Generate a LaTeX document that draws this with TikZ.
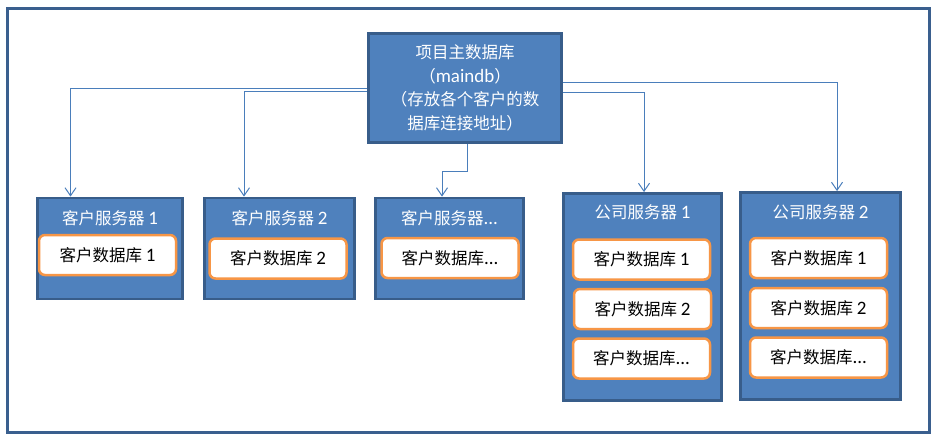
\documentclass[tikz,border=0pt]{standalone}
\usepackage{fontspec}
\setmainfont{Noto Sans CJK SC}
\newfontfamily\latfont[Scale=1.15]{Carlito}
\usetikzlibrary{arrows.meta}
\definecolor{boxfill}{RGB}{79,129,189}
\definecolor{boxline}{RGB}{56,93,138}
\definecolor{orng}{RGB}{247,150,70}
\definecolor{connc}{RGB}{74,126,187}
\definecolor{framec}{RGB}{58,95,142}
\newcommand\lf[1]{{\latfont #1}}
\begin{document}
\begin{tikzpicture}[x=1pt,y=-1pt,
  srv/.style={draw=boxline,fill=boxfill,line width=2.8pt,inner sep=0pt,rectangle},
  dbbox/.style={draw=orng,fill=white,line width=2.5pt,rounded corners=6pt,
    minimum width=137pt,minimum height=40pt,inner sep=0pt,
    font=\fontsize{16.5}{19}\selectfont,text=black},
  ttl/.style={text=white,font=\fontsize{16.5}{19}\selectfont,inner sep=0pt},
  cn/.style={draw=connc,line width=1pt,-{Straight Barb[length=8pt,width=11pt]}}
]
\useasboundingbox (0,0) rectangle (941,442);
\draw[framec,line width=3pt] (7.5,8.5) rectangle (929,432);

% main database
\node[srv,minimum width=193pt,minimum height=109pt] (m) at (465,88) {};
\node[text=white,align=center,inner sep=0pt,font=\fontsize{16.5}{23.7}\selectfont] (mt) at (465,88)
  {项目主数据库\\（\lf{maindb}）\\（存放各个客户的数\\据库连接地址）};

% customer servers
\node[srv,minimum width=145pt,minimum height=101pt] (cs1) at (110,248.5) {};
\node[ttl] (cs1t) at (110,218) {客户服务器 \lf{1}};
\node[dbbox] (cs1d) at (107.5,255) {客户数据库 \lf{1}};

\node[srv,minimum width=150pt,minimum height=101pt] (cs2) at (279.5,248.5) {};
\node[ttl] (cs2t) at (279.5,218) {客户服务器 \lf{2}};
\node[dbbox] (cs2d) at (278,258.5) {客户数据库 \lf{2}};

\node[srv,minimum width=148pt,minimum height=101pt] (csd) at (449.5,248.5) {};
\node[ttl] (csdt) at (449.5,218) {客户服务器\lf{...}};
\node[dbbox] (csdd) at (450,258) {客户数据库\lf{...}};

% company servers
\node[srv,minimum width=158pt,minimum height=207pt] (co1) at (642.5,297) {};
\node[ttl] (co1t) at (642.5,212) {公司服务器 \lf{1}};
\node[dbbox] (co1a) at (641.5,259.5) {客户数据库 \lf{1}};
\node[dbbox] (co1b) at (642.5,309) {客户数据库 \lf{2}};
\node[dbbox] (co1c) at (641.5,358.5) {客户数据库\lf{...}};

\node[srv,minimum width=160pt,minimum height=207pt] (co2) at (820.5,296) {};
\node[ttl] (co2t) at (820.5,212) {公司服务器 \lf{2}};
\node[dbbox] (co2a) at (818.5,258) {客户数据库 \lf{1}};
\node[dbbox] (co2b) at (818.5,308) {客户数据库 \lf{2}};
\node[dbbox] (co2c) at (818.5,357.5) {客户数据库\lf{...}};

% connectors
\draw[cn] (m.west) -| ([xshift=-39.5pt]cs1.north);
\draw[cn] ([yshift=-3pt]m.west) -| ([xshift=-35.5pt]cs2.north);
\draw[cn] ([xshift=2pt]m.south) -- ++(0,28) -| ([xshift=-7.5pt]csd.north);
\draw[cn] ([yshift=-4.5pt]m.east) -| ([xshift=1.5pt]co1.north);
\draw[cn] ([yshift=5.5pt]m.east) -| ([xshift=16.5pt]co2.north);
\end{tikzpicture}
\end{document}
